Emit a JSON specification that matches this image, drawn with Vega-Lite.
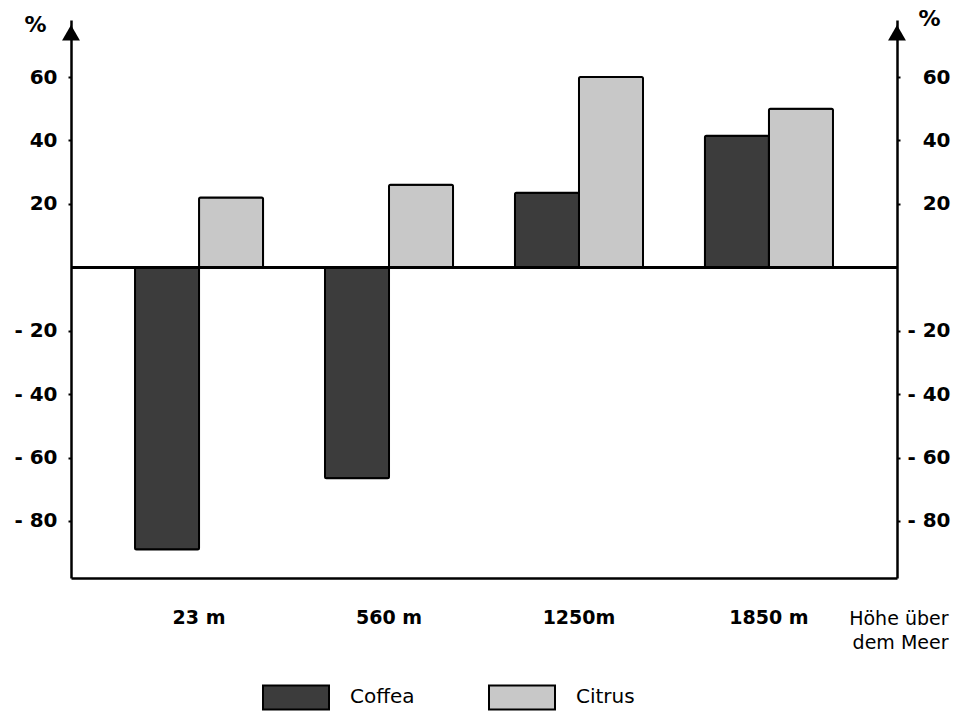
{
  "$schema": "https://vega.github.io/schema/vega-lite/v6.json",
  "autosize": "none",
  "width": 826,
  "height": 558,
  "padding": {"left": 71, "top": 20, "right": 64, "bottom": 139},
  "background": "white",
  "config": {
    "view": {"stroke": null},
    "axis": {
      "domainColor": "black",
      "domainWidth": 2.5,
      "tickColor": "black",
      "tickWidth": 2,
      "labelColor": "black",
      "labelFont": "DejaVu Sans",
      "labelFontWeight": "bold",
      "labelFontSize": 20,
      "titleColor": "black",
      "grid": false
    }
  },
  "data": {
    "values": [
      {"hoehe": "23 m", "art": "Coffea", "prozent": -89},
      {"hoehe": "23 m", "art": "Citrus", "prozent": 22},
      {"hoehe": "560 m", "art": "Coffea", "prozent": -66.5},
      {"hoehe": "560 m", "art": "Citrus", "prozent": 26},
      {"hoehe": "1250m", "art": "Coffea", "prozent": 23.5},
      {"hoehe": "1250m", "art": "Citrus", "prozent": 60},
      {"hoehe": "1850 m", "art": "Coffea", "prozent": 41.5},
      {"hoehe": "1850 m", "art": "Citrus", "prozent": 50}
    ]
  },
  "resolve": {"axis": {"y": "independent"}},
  "layer": [
    {
      "mark": {"type": "bar", "stroke": "black", "strokeWidth": 2, "cornerRadius": 1.5},
      "encoding": {
        "x": {
          "field": "hoehe",
          "type": "nominal",
          "sort": ["23 m", "560 m", "1250m", "1850 m"],
          "scale": {"paddingInner": 0.326, "paddingOuter": 0.337},
          "axis": {
            "orient": "bottom",
            "ticks": false,
            "tickSize": 0,
            "labelAngle": 0,
            "labelFontSize": 19,
            "labelPadding": 30,
            "labelBaseline": "top",
            "title": ["Höhe über", "dem Meer"],
            "titleFont": "DejaVu Sans",
            "titleFontWeight": "normal",
            "titleFontSize": 19,
            "titleAlign": "right",
            "titleAnchor": null,
            "titleBaseline": "alphabetic",
            "titleX": 877,
            "titleY": 46,
            "titleLineHeight": 24
          }
        },
        "xOffset": {"field": "art", "type": "nominal", "sort": ["Coffea", "Citrus"]},
        "y": {
          "field": "prozent",
          "type": "quantitative",
          "scale": {"domain": [-98, 78], "nice": false, "zero": false},
          "axis": {
            "orient": "left",
            "values": [-80, -60, -40, -20, 20, 40, 60],
            "labelExpr": "datum.value < 0 ? '- ' + abs(datum.value) : datum.label",
            "tickSize": 3,
            "labelPadding": 11,
            "title": "%",
            "titleAngle": 0,
            "titleFont": "DejaVu Sans",
            "titleFontWeight": "bold",
            "titleFontSize": 22,
            "titleAlign": "center",
            "titleBaseline": "middle",
            "titleAnchor": null,
            "titleX": -36,
            "titleY": 4
          }
        },
        "color": {
          "field": "art",
          "type": "nominal",
          "scale": {"domain": ["Coffea", "Citrus"], "range": ["#3c3c3c", "#c8c8c8"]},
          "legend": {
            "orient": "none",
            "direction": "horizontal",
            "legendX": 191,
            "legendY": 643,
            "title": null,
            "symbolType": "M-1,-0.364H1V0.364H-1Z",
            "symbolSize": 4356,
            "symbolStrokeColor": "black",
            "symbolStrokeWidth": 2,
            "symbolOpacity": 1,
            "labelFont": "DejaVu Sans",
            "labelFontSize": 20,
            "labelColor": "black",
            "labelOffset": 20,
            "columnPadding": 70,
            "padding": 0
          }
        }
      }
    },
    {
      "mark": {"type": "rule", "color": "black", "strokeWidth": 2.5},
      "encoding": {
        "y": {
          "datum": 0,
          "type": "quantitative",
          "axis": {
            "orient": "right",
            "values": [-80, -60, -40, -20, 20, 40, 60],
            "labelExpr": "datum.value < 0 ? '- ' + abs(datum.value) : datum.label",
            "tickSize": 3,
            "labelAlign": "right",
            "labelPadding": 50,
            "title": "%",
            "titleAngle": 0,
            "titleFont": "DejaVu Sans",
            "titleFontWeight": "bold",
            "titleFontSize": 22,
            "titleAlign": "center",
            "titleBaseline": "middle",
            "titleAnchor": null,
            "titleX": 32,
            "titleY": -2
          }
        }
      }
    },
    {
      "data": {"values": [{"side": "links"}]},
      "mark": {"type": "point", "shape": "triangle-up", "filled": true, "color": "black", "opacity": 1, "size": 320},
      "encoding": {
        "x": {"datum": "23 m", "type": "nominal", "bandPosition": -0.5},
        "y": {"datum": 74, "type": "quantitative", "axis": null}
      }
    },
    {
      "data": {"values": [{"side": "rechts"}]},
      "mark": {"type": "point", "shape": "triangle-up", "filled": true, "color": "black", "opacity": 1, "size": 320},
      "encoding": {
        "x": {"datum": "1850 m", "type": "nominal", "bandPosition": 1.5},
        "y": {"datum": 74, "type": "quantitative", "axis": null}
      }
    }
  ]
}
